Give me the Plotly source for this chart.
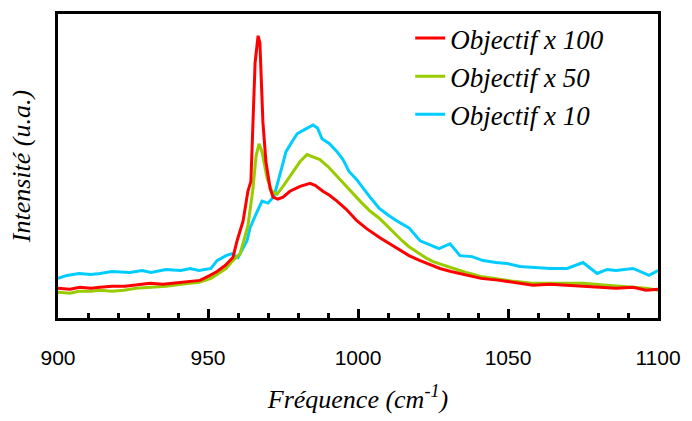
import plotly.graph_objects as go

# Frequencies (cm-1) and intensities (arbitrary units)
red_x = [900, 904, 907.3, 911, 914, 918, 922.3, 926, 930.7, 935, 940.7, 944, 947.3, 950.7, 953, 955.7, 958.3,
         959.7, 961.7, 963.3, 964.3, 965, 965.7, 966.7, 967.3, 968.3, 969.3, 970.7, 971.7, 973.3, 975, 977.3,
         980.7, 984, 985.7, 988.3, 990.5, 993, 996, 999.7, 1003, 1007.3, 1010.5, 1014, 1017, 1020.7, 1024,
         1027.3, 1031, 1036.3, 1041, 1047.3, 1052, 1058.3, 1064, 1069.7, 1075, 1080.7, 1086, 1091.7, 1096, 1100]
red_y = [30, 29, 31, 30, 31, 32, 32, 33, 35, 34, 36, 37, 38, 43, 47, 53, 61,
         78, 98, 128, 138, 198, 258, 285, 278, 198, 158, 131, 122, 120, 122, 128,
         133, 136, 134, 128, 124, 118, 110, 98, 90, 81, 75, 68, 63, 58, 54,
         50, 47, 43, 40, 38, 36, 33, 34, 33, 32, 31, 30, 31, 28, 29]

green_x = [900, 904, 907, 911, 914, 918, 922, 926, 931, 936, 941, 944, 947, 951, 953.5, 956, 958.3,
           960.7, 963.3, 965, 966, 967, 968, 969.7, 971.3, 973, 975, 977.3, 980.7, 983, 985, 987.3,
           990, 993, 995.5, 998.3, 1001, 1004, 1007, 1009.7, 1012, 1014.7, 1017, 1020, 1022.5, 1025,
           1030.7, 1036, 1041, 1047, 1052, 1058, 1066, 1075, 1083, 1092, 1096, 1100]
green_y = [26, 25, 27, 27, 28, 27, 28, 30, 31, 32, 34, 35, 36, 40, 45, 50, 58,
           65, 93, 131, 163, 176, 168, 141, 128, 125, 133, 143, 158, 165, 163, 160,
           153, 143, 135, 126, 117, 108, 101, 93, 86, 78, 72, 66, 61, 57,
           51, 46, 42, 39, 37, 35, 35, 35, 33, 31, 30, 28]

blue_x = [900, 903, 907, 911, 914, 918, 924, 928, 931, 936, 941, 944, 947, 951, 953, 956, 958, 960,
          963, 964, 966, 968, 970, 972, 974, 976, 978, 979.7, 982, 985, 986.5, 988, 990.5, 993, 995, 997,
          999.5, 1001.7, 1004, 1007, 1010, 1013, 1017, 1020.7, 1024, 1027, 1030.7, 1034, 1038, 1041.7,
          1046, 1049.7, 1054, 1058.3, 1064, 1069.7, 1075, 1079.7, 1083, 1086, 1091.7, 1097, 1100]
blue_y = [40, 43, 45, 44, 45, 47, 46, 48, 46, 49, 48, 50, 48, 50, 58, 63, 65, 61,
          78, 91, 105, 118, 116, 123, 145, 168, 178, 186, 190, 195, 192, 181, 176, 168, 160, 148,
          140, 131, 122, 111, 104, 98, 91, 78, 74, 70, 75, 63, 62, 58,
          56, 55, 52, 51, 50, 50, 56, 45, 49, 48, 50, 43, 48]

x_ticks = [900, 950, 1000, 1050, 1100]
x_labels = ["900", "950", "1000", "1050", "1100"]

fig = go.Figure()
fig.add_trace(go.Scatter(x=blue_x, y=blue_y, mode="lines", name="Objectif x 10",
                         line=dict(color="#00CCFF", width=3)))
fig.add_trace(go.Scatter(x=green_x, y=green_y, mode="lines", name="Objectif x 50",
                         line=dict(color="#99CC00", width=3)))
fig.add_trace(go.Scatter(x=red_x, y=red_y, mode="lines", name="Objectif x 100",
                         line=dict(color="#FF0000", width=3)))
# empty helper trace so the label axis (x2) is drawn
fig.add_trace(go.Scatter(x=[x_ticks[0], x_ticks[-1]], y=[None, None], xaxis="x2", yaxis="y",
                         mode="lines", showlegend=False, hoverinfo="skip"))

serif = "Liberation Serif"
fig.update_layout(
    width=692, height=421,
    margin=dict(l=58, r=34, t=11, b=103),
    paper_bgcolor="white", plot_bgcolor="white",
    showlegend=True,
    legend=dict(x=0.587, y=1.0, xanchor="left", yanchor="top", traceorder="reversed",
                bgcolor="rgba(0,0,0,0)", font=dict(family=serif, size=27, color="black", style="italic"),
                itemwidth=30, tracegroupgap=0),
    xaxis=dict(range=[x_ticks[0], x_ticks[-1]], tickvals=x_ticks, showticklabels=False,
               ticks="inside", ticklen=9, tickwidth=3, tickcolor="black",
               minor=dict(tickmode="linear", tick0=900, dtick=10, ticks="inside", ticklen=5,
                          tickwidth=3, tickcolor="black", showgrid=False),
               showline=True, linewidth=3, linecolor="black", mirror=True, showgrid=False, zeroline=False),
    xaxis2=dict(overlaying="x", matches="x", anchor="y", side="bottom",
                range=[x_ticks[0], x_ticks[-1]], tickvals=x_ticks, ticktext=x_labels,
                ticks="", showline=False, showgrid=False, zeroline=False,
                tickfont=dict(family="Liberation Sans", size=21, color="black"), ticklabelstandoff=25,
                title=dict(text="Fréquence (cm<sup>-1</sup>)", standoff=21,
                           font=dict(family=serif, size=26, color="black", style="italic"))),
    yaxis=dict(range=[0, 307], showticklabels=False, ticks="", showgrid=False, zeroline=False,
               showline=True, linewidth=3, linecolor="black", mirror=True,
               title=dict(text="Intensité (u.a.)", standoff=17,
                          font=dict(family=serif, size=26, color="black", style="italic"))),
)

fig.write_html("out.html", post_script="document.body.style.margin='0';",
               config={"displayModeBar": False})
